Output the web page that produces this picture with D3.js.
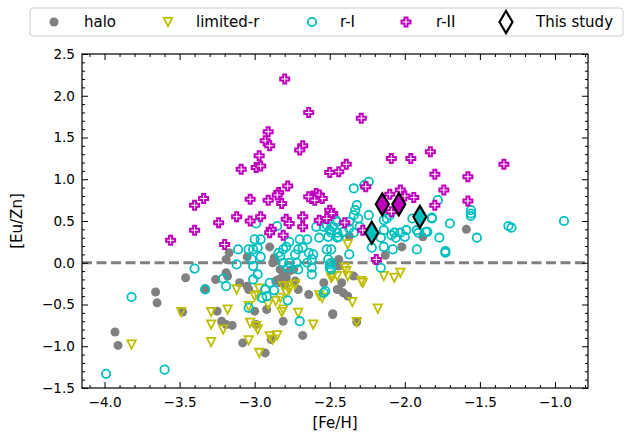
<!DOCTYPE html>
<html>
<head>
<meta charset="utf-8">
<script src="https://cdn.jsdelivr.net/npm/d3@7"></script>
<style>
  html, body { margin: 0; padding: 0; background: #fff; }
  svg { display: block; font-family: "DejaVu Sans", sans-serif; }
</style>
</head>
<body>
<svg id="chart" width="626" height="432"></svg>
<script>
// [Fe/H], [Eu/Zn] pairs for each stellar class
const halo = [
  [-3.93,-0.83],[-3.91,-0.99],[-3.66,-0.35],[-3.65,-0.48],[-3.48,-0.59],
  [-2.90,0.19],[-3.17,0.12],[-3.19,0.04],[-2.87,0.06],[-2.86,0.02],[-2.88,0.00],[-3.05,0.07],
  [-3.46,-0.18],[-3.33,-0.31],[-3.19,-0.12],[-3.18,-0.16],[-3.26,-0.20],[-3.10,-0.24],
  [-3.05,-0.28],[-3.04,-0.32],[-2.83,-0.08],[-2.81,-0.14],[-2.84,-0.20],[-2.86,-0.22],
  [-2.83,-0.24],[-2.79,-0.18],[-2.80,-0.26],[-2.77,-0.10],[-2.74,-0.08],[-2.73,-0.22],
  [-2.71,-0.32],[-2.64,-0.38],[-2.54,-0.24],[-2.45,-0.32],[-2.92,-0.56],[-3.00,-0.58],
  [-3.25,-0.58],[-3.22,-0.70],[-3.15,-0.75],[-3.19,-0.74],[-2.99,-0.74],[-2.68,-0.87],
  [-2.48,-0.61],[-3.08,-0.96],[-2.93,-1.08],[-2.89,-0.92],[-2.81,-0.70],
  [-1.59,0.40],[-1.88,0.31],[-2.02,0.19],[-2.13,0.09],[-2.37,0.32],[-2.44,0.04],
  [-2.46,0.00],[-2.44,-0.04],[-2.34,-0.16],[-2.42,-0.24],[-2.44,-0.32],[-2.41,-0.36],
  [-2.38,-0.40],[-2.48,-0.62],[-2.32,-0.71]
];

const limitedR = [
  [-3.82,-0.98],
  [-2.97,-0.31],[-2.98,-0.39],[-3.00,-0.40],[-2.81,-0.28],[-2.78,-0.28],[-2.73,-0.26],
  [-2.77,-0.32],[-2.79,-0.36],[-3.12,-0.32],[-2.83,-0.42],[-2.86,-0.46],[-2.91,-0.50],
  [-2.81,-0.56],[-2.82,-0.59],[-2.57,-0.39],[-2.55,-0.42],[-2.48,-0.16],[-2.49,-0.16],
  [-3.18,-0.56],[-3.29,-0.59],[-3.29,-0.74],[-3.49,-0.59],[-3.21,-0.80],[-3.04,-0.52],
  [-3.03,-0.72],[-2.99,-0.76],[-2.98,-0.80],[-2.71,-0.60],[-2.61,-0.74],[-3.29,-0.95],
  [-3.04,-0.93],[-2.90,-0.88],[-2.85,-0.87],[-2.88,-0.92],[-2.97,-1.08],
  [-2.38,0.22],[-2.40,-0.06],[-2.39,-0.10],[-2.45,-0.16],[-2.49,-0.18],[-2.38,-0.16],
  [-2.29,-0.22],[-2.28,-0.24],[-2.14,-0.16],[-2.07,-0.18],[-2.03,-0.12],[-2.35,-0.47],
  [-2.18,-0.55],[-2.32,-0.71]
];

const rI = [
  [-3.99,-1.33],[-3.82,-0.41],[-3.60,-1.28],
  [-2.99,0.47],[-2.85,0.44],[-3.00,0.28],[-2.96,0.28],[-2.98,0.18],[-3.01,0.16],
  [-3.04,0.16],[-3.11,0.16],[-2.96,0.07],[-3.02,0.04],[-3.01,-0.04],[-3.12,-0.02],
  [-3.40,-0.07],[-2.98,-0.14],[-3.01,-0.20],[-3.21,-0.19],[-3.19,-0.28],[-3.33,-0.32],
  [-2.90,-0.24],[-2.93,-0.32],[-2.92,-0.40],[-2.95,-0.42],[-2.87,-0.33],[-3.04,-0.54],
  [-2.78,-0.45],[-2.70,-0.70],[-2.54,-0.36],[-2.53,-0.34],
  [-2.84,0.12],[-2.83,0.08],[-2.81,0.16],[-2.77,0.25],[-2.79,0.19],[-2.73,0.10],
  [-2.70,0.28],[-2.65,0.28],[-2.71,0.16],[-2.68,0.18],[-2.64,0.12],[-2.62,0.04],
  [-2.61,0.10],[-2.65,0.00],[-2.72,0.00],[-2.77,0.00],[-2.71,-0.08],[-2.78,-0.06],
  [-2.81,0.00],[-2.62,-0.14],[-2.62,-0.06],[-2.59,0.43],[-2.54,0.43],[-2.57,0.30],
  [-2.51,0.31],[-2.52,0.45],[-2.45,0.49],[-2.52,0.16],[-2.49,0.16],[-2.51,0.04],
  [-2.50,-0.02],[-2.49,-0.08],[-2.49,0.36],[-2.45,0.30],
  [-2.34,0.89],[-2.27,0.93],[-2.24,0.97],[-1.78,0.75],[-2.32,0.69],[-2.33,0.63],
  [-2.34,0.57],[-2.24,0.57],[-2.14,0.51],[-2.12,0.53],[-2.10,0.57],[-1.95,0.53],
  [-1.82,0.53],[-1.70,0.47],[-2.46,0.51],[-2.48,0.43],[-2.50,0.39],[-2.37,0.49],
  [-2.31,0.53],[-2.30,0.43],[-2.37,0.41],[-2.41,0.37],[-2.34,0.36],[-2.14,0.39],
  [-2.16,0.30],[-2.14,0.19],[-2.22,0.18],[-2.07,0.36],[-2.03,0.36],[-1.99,0.39],
  [-2.00,0.31],[-2.06,0.30],[-2.09,0.33],[-1.92,0.39],[-1.91,0.36],[-1.86,0.37],
  [-1.77,0.30],[-1.52,0.30],[-1.73,0.12],[-1.92,0.16],[-2.08,0.16],[-2.37,0.10],
  [-2.16,-0.06],[-2.45,0.36],[-2.44,0.31],[-2.49,0.00],[-2.50,-0.06],
  [-1.82,0.54],[-1.56,0.63],[-1.56,0.59],[-1.56,0.56],[-1.31,0.44],[-1.29,0.42],
  [-0.94,0.50],[-1.85,0.37],[-1.73,0.14]
];

const rII = [
  [-2.80,2.20],[-2.64,1.80],[-2.29,1.73],[-2.91,1.57],[-2.93,1.46],[-2.90,1.40],
  [-2.68,1.40],[-2.70,1.35],[-2.97,1.28],[-2.99,1.14],[-2.96,1.16],[-2.39,1.18],
  [-2.50,1.08],[-2.44,1.09],[-2.09,1.25],[-1.96,1.25],[-1.83,1.33],[-1.80,1.06],
  [-1.58,1.03],[-1.34,1.18],[-1.74,0.87],[-1.58,0.74],[-1.80,0.69],[-1.94,0.78],
  [-2.00,0.80],[-2.03,0.87],[-2.10,0.82],[-2.09,0.61],[-2.26,0.91],[-2.28,0.39],
  [-2.40,0.48],[-2.48,0.59],[-2.19,0.04],[-2.78,0.92],[-2.84,0.84],[-2.85,0.81],
  [-2.91,0.75],[-2.82,0.71],[-3.03,0.76],[-3.09,1.12],[-3.34,0.77],[-3.40,0.69],
  [-3.12,0.55],[-3.24,0.48],[-3.03,0.50],[-2.96,0.55],[-3.40,0.39],[-3.20,0.22],
  [-3.56,0.27],[-2.89,0.40],[-2.90,0.36],[-2.81,0.33],[-2.79,0.52],[-2.77,0.47],
  [-2.68,0.55],[-2.68,0.43],[-2.57,0.51],[-2.50,0.63],[-2.49,0.59],[-2.52,0.53],
  [-2.61,0.80],[-2.59,0.83],[-2.58,0.78],[-2.57,0.81],[-2.62,0.77],[-2.55,0.77],
  [-2.64,0.79],[-2.60,0.75]
];

// this study: Eu-rich (r-II) and moderately enhanced (r-I) stars
const studyII = [[-2.15,0.70],[-2.04,0.70]];
const studyI = [[-2.22,0.36],[-1.90,0.55]];

const xTicks = [-4.0,-3.5,-3.0,-2.5,-2.0,-1.5,-1.0];
const yTicks = [-1.5,-1.0,-0.5,0.0,0.5,1.0,1.5,2.0,2.5];
const legendLabels = ["halo","limited-r","r-I","r-II","This study"];

const colors = { halo: "#808080", limited: "#bfbf00", rI: "#00bfbf", rII: "#bf00bf" };

const svg = d3.select("#chart");
const m = { left: 82, right: 588, top: 54, bottom: 388 };

const x = d3.scaleLinear().domain([-4.15, -0.78]).range([m.left, m.right]);
const y = d3.scaleLinear().domain([-1.5, 2.5]).range([m.bottom, m.top]);

const fmt = d3.format(".1f");
const xMinor = d3.range(-4.1, -0.79, 0.1).map(v => +v.toFixed(2)).filter(v => !xTicks.some(t => Math.abs(t - v) < 1e-6));
const yMinor = d3.range(-1.5, 2.501, 0.1).map(v => +v.toFixed(2)).filter(v => !yTicks.some(t => Math.abs(t - v) < 1e-6));

// zero reference line
svg.append("line")
  .attr("x1", m.left).attr("x2", m.right)
  .attr("y1", y(0)).attr("y2", y(0))
  .attr("stroke", "#808080").attr("stroke-width", 2.8)
  .attr("stroke-dasharray", "10,4.5");

// marker shapes
const plusPath = (s, a) => `M${-a},${-s}H${a}V${-a}H${s}V${a}H${a}V${s}H${-a}V${a}H${-s}V${-a}H${-a}Z`;
const triDown = s => `M0,${s}L${-s},${-s}L${s},${-s}Z`;
const thinDiamond = (w, h) => `M0,${-h}L${w},0L0,${h}L${-w},0Z`;

const pts = svg.append("g");

pts.selectAll("circle.halo").data(halo).join("circle")
  .attr("class", "halo")
  .attr("cx", d => x(d[0])).attr("cy", d => y(d[1])).attr("r", 4.5)
  .attr("fill", colors.halo);

pts.selectAll("path.lim").data(limitedR).join("path")
  .attr("class", "lim")
  .attr("transform", d => `translate(${x(d[0])},${y(d[1])})`)
  .attr("d", triDown(4.2))
  .attr("fill", "none").attr("stroke", colors.limited).attr("stroke-width", 1.8);

pts.selectAll("circle.ri").data(rI).join("circle")
  .attr("class", "ri")
  .attr("cx", d => x(d[0])).attr("cy", d => y(d[1])).attr("r", 4.2)
  .attr("fill", "none").attr("stroke", colors.rI).attr("stroke-width", 1.8);

pts.selectAll("path.rii").data(rII).join("path")
  .attr("class", "rii")
  .attr("transform", d => `translate(${x(d[0])},${y(d[1])})`)
  .attr("d", plusPath(4.5, 1.5))
  .attr("fill", "#fff").attr("stroke", colors.rII).attr("stroke-width", 2);

pts.selectAll("path.s2").data(studyII).join("path")
  .attr("class", "s2")
  .attr("transform", d => `translate(${x(d[0])},${y(d[1])})`)
  .attr("d", thinDiamond(6.5, 11))
  .attr("fill", colors.rII).attr("stroke", "#000").attr("stroke-width", 2.2);

pts.selectAll("path.s1").data(studyI).join("path")
  .attr("class", "s1")
  .attr("transform", d => `translate(${x(d[0])},${y(d[1])})`)
  .attr("d", thinDiamond(6.5, 11))
  .attr("fill", colors.rI).attr("stroke", "#000").attr("stroke-width", 2.2);

// axes: inward ticks on all four sides
const axisFont = g => g.selectAll("text").attr("font-size", 13.6).attr("fill", "#000").attr("font-family", "DejaVu Sans, sans-serif");
const clean = g => { g.select(".domain").remove(); g.selectAll("line").attr("stroke", "#000").attr("stroke-width", 1); };

svg.append("g").attr("transform", `translate(0,${m.bottom})`)
  .call(d3.axisBottom(x).tickValues(xTicks).tickFormat(fmt).tickSize(-6).tickPadding(9))
  .call(clean).call(axisFont);
svg.append("g").attr("transform", `translate(0,${m.bottom})`)
  .call(d3.axisBottom(x).tickValues(xMinor).tickFormat("").tickSize(-3)).call(clean);
svg.append("g").attr("transform", `translate(0,${m.top})`)
  .call(d3.axisTop(x).tickValues(xTicks).tickFormat("").tickSize(-6)).call(clean);
svg.append("g").attr("transform", `translate(0,${m.top})`)
  .call(d3.axisTop(x).tickValues(xMinor).tickFormat("").tickSize(-3)).call(clean);

svg.append("g").attr("transform", `translate(${m.left},0)`)
  .call(d3.axisLeft(y).tickValues(yTicks).tickFormat(fmt).tickSize(-6).tickPadding(7))
  .call(clean).call(axisFont);
svg.append("g").attr("transform", `translate(${m.left},0)`)
  .call(d3.axisLeft(y).tickValues(yMinor).tickFormat("").tickSize(-3)).call(clean);
svg.append("g").attr("transform", `translate(${m.right},0)`)
  .call(d3.axisRight(y).tickValues(yTicks).tickFormat("").tickSize(-6)).call(clean);
svg.append("g").attr("transform", `translate(${m.right},0)`)
  .call(d3.axisRight(y).tickValues(yMinor).tickFormat("").tickSize(-3)).call(clean);

// plot frame
svg.append("rect")
  .attr("x", m.left).attr("y", m.top)
  .attr("width", m.right - m.left).attr("height", m.bottom - m.top)
  .attr("fill", "none").attr("stroke", "#000").attr("stroke-width", 1.2);

// axis titles
svg.append("text")
  .attr("x", (m.left + m.right) / 2).attr("y", 428)
  .attr("text-anchor", "middle").attr("font-size", 15)
  .text("[Fe/H]");
svg.append("text")
  .attr("transform", `translate(22,${(m.top + m.bottom) / 2}) rotate(-90)`)
  .attr("text-anchor", "middle").attr("font-size", 15)
  .text("[Eu/Zn]");

// legend
const lg = svg.append("g");
lg.append("rect")
  .attr("x", 30).attr("y", 8).attr("width", 593).attr("height", 28).attr("rx", 3)
  .attr("fill", "#fff").attr("fill-opacity", 0.8)
  .attr("stroke", "#cccccc").attr("stroke-width", 1);

const ly = 22;
const items = [
  { mx: 54, tx: 84, draw: g => g.append("circle").attr("r", 4.5).attr("fill", colors.halo) },
  { mx: 168, tx: 196, draw: g => g.append("path").attr("d", triDown(4.2)).attr("fill", "none").attr("stroke", colors.limited).attr("stroke-width", 1.8) },
  { mx: 312, tx: 340, draw: g => g.append("circle").attr("r", 4.2).attr("fill", "none").attr("stroke", colors.rI).attr("stroke-width", 1.8) },
  { mx: 406, tx: 436, draw: g => g.append("path").attr("d", plusPath(4.5, 1.5)).attr("fill", "#fff").attr("stroke", colors.rII).attr("stroke-width", 2) },
  { mx: 506, tx: 536, draw: g => g.append("path").attr("d", thinDiamond(6.5, 11)).attr("fill", "#fff").attr("stroke", "#000").attr("stroke-width", 2.2) }
];
items.forEach((it, i) => {
  const g = lg.append("g").attr("transform", `translate(${it.mx},${ly})`);
  it.draw(g);
  lg.append("text").attr("x", it.tx).attr("y", ly).attr("dy", "0.35em")
    .attr("font-size", 15).text(legendLabels[i]);
});
</script>
</body>
</html>
